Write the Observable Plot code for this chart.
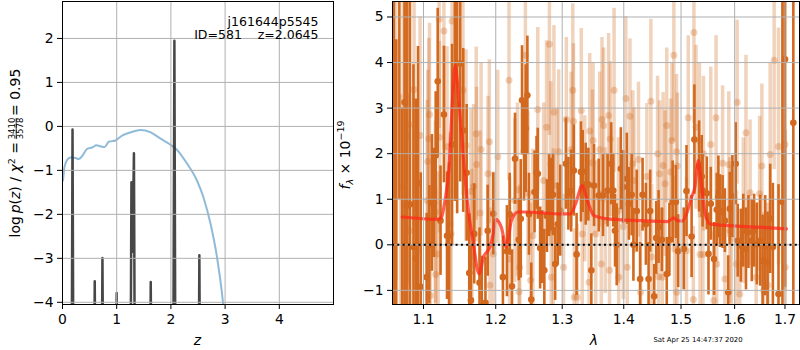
<!DOCTYPE html>
<html><head><meta charset="utf-8">
<script src="https://cdn.jsdelivr.net/npm/d3@7"></script>
<script src="https://cdn.jsdelivr.net/npm/@observablehq/plot@0.6"></script>
<style>
body{margin:0;background:#fff;}
#wrap{position:relative;width:800px;height:350px;background:#fff;font-family:"DejaVu Sans",sans-serif;}
#wrap svg{position:absolute;top:0;overflow:visible;}
</style></head><body><div id="wrap"></div>
<script>
// ---------- left panel data ----------
const zTicks = [0, 1, 2, 3, 4];
const pzTicks = [-4, -3, -2, -1, 0, 1, 2];
const pzZ   = [0, 0.16, 0.185, 0.21, 0.57, 0.595, 0.62, 0.71, 0.737, 0.765, 0.975, 1.0, 1.025, 1.245, 1.272, 1.292, 1.318, 1.345, 1.605, 1.628, 1.655, 2.035, 2.0645, 2.09, 2.5, 2.525, 2.55, 5];
const pzLog = [-9, -9, -0.07, -9, -9, -3.52, -9, -9, -2.99, -9, -9, -3.79, -9, -9, -1.27, -2.85, -0.61, -9, -9, -3.54, -9, -9, 1.95, -9, -9, -2.93, -9, -9];
const chiZ = [0.01, 0.037, 0.086, 0.147, 0.24, 0.30, 0.36, 0.455, 0.547, 0.627, 0.69, 0.774, 0.854, 0.977, 1.10, 1.25, 1.44, 1.62, 1.81, 1.96, 2.11, 2.30, 2.48, 2.60, 2.73, 2.85, 2.96, 3.0];
const chiV = [-1.23, -0.92, -0.76, -0.71, -0.72, -0.74, -0.68, -0.51, -0.48, -0.43, -0.45, -0.47, -0.35, -0.32, -0.21, -0.14, -0.08, -0.13, -0.28, -0.39, -0.53, -0.85, -1.23, -1.61, -2.21, -2.97, -3.99, -4.5];
const objName = "j161644p5545";
const objInfo = "ID=581\u00a0\u00a0\u00a0\u00a0z=2.0645";

// ---------- right panel data ----------
const lamTicks = [1.1, 1.2, 1.3, 1.4, 1.5, 1.6, 1.7];
const fluxTicks = [-1, 0, 1, 2, 3, 4, 5];
const darkWave = [1.0615,1.0645,1.0685,1.0720,1.0752,1.0779,1.0822,1.0868,1.0898,1.0928,1.0964,1.1042,1.1078,1.1112,1.1140,1.1163,1.1190,1.1228,1.1274,1.1316,1.1344,1.1385,1.1423,1.1455,1.1497,1.1539,1.1587,1.1623,1.1647,1.1693,1.1768,1.1800,1.1852,1.1884,1.1964,1.2104,1.2163,1.2203,1.2237,1.2282,1.2337,1.2367,1.2386,1.2416,1.2441,1.2466,1.2490,1.2525,1.2574,1.2604,1.2623,1.2659,1.2689,1.2723,1.2763,1.2797,1.2822,1.2856,1.2890,1.2930,1.2970,1.3058,1.3097,1.3140,1.3183,1.3227,1.3297,1.3325,1.3373,1.3416,1.3464,1.3508,1.3584,1.3654,1.3730,1.3790,1.3825,1.3854,1.3882,1.3951,1.3990,1.4052,1.4087,1.4134,1.4164,1.4221,1.4279,1.4321,1.4378,1.4425,1.4453,1.4523,1.4558,1.4600,1.4657,1.4744,1.4791,1.4849,1.4906,1.4948,1.5049,1.5099,1.5192,1.5243,1.5330,1.5379,1.5395,1.5472,1.5504,1.5547,1.5608,1.5659,1.5690,1.5720,1.5770,1.5813,1.5877,1.5907,1.5957,1.6020,1.6060,1.6120,1.6168,1.6220,1.6268,1.6334,1.6380,1.6434,1.6500,1.6548,1.6600,1.6648,1.6700,1.6754,1.6868,1.6948,1.7000,1.7172];
const darkFlux = [6.5,-2.5,7.0,-3.0,3.13,0.86,0.89,-0.05,-0.30,1.35,-0.92,-0.71,0.00,0.92,0.92,1.96,3.59,0.53,2.86,0.20,0.20,2.20,3.45,3.08,3.98,2.51,1.58,-0.62,-1.22,0.24,-0.83,-1.35,-1.27,0.31,0.68,-0.71,-0.14,0.67,-0.91,1.89,0.11,0.57,3.17,2.06,2.55,3.28,0.67,-1.20,1.16,1.58,1.56,-0.07,-0.05,-0.56,0.63,1.08,1.10,1.10,-0.42,0.45,0.75,1.78,1.12,1.18,1.63,-0.21,1.60,1.61,1.33,1.32,-0.56,1.30,1.08,1.08,1.19,1.78,1.19,0.31,0.00,1.67,1.27,1.45,0.90,1.10,0.00,0.74,-0.75,1.10,0.45,-0.75,0.74,-1.13,0.15,0.39,0.11,-0.64,0.11,0.94,0.94,-0.14,-0.09,1.18,0.18,2.31,1.72,1.50,1.19,1.13,-0.20,0.90,-0.31,0.77,1.05,0.74,0.72,0.53,-1.04,0.79,1.06,1.78,0.09,-0.02,0.31,-0.09,0.28,0.09,0.31,0.02,0.09,-0.35,-0.02,-0.38,0.57,-0.05,-1.08,0.94,4.07,2.68];
const darkErr = [8,7,6,6,5,4.5,4.5,4,3.5,3,2.5,1.4,1.3,1.5,1.2,1.4,1.6,1.2,1.5,1.4,1.6,2.2,2.5,2.4,2.6,1.8,1.5,1.3,1.2,1.1,1.2,1.1,1.0,1.0,0.9,0.9,1.0,0.9,0.8,1.0,0.9,1.3,1.2,1.1,1.4,1.3,0.9,0.8,0.9,0.8,1.0,0.9,0.8,0.9,0.8,0.9,0.8,0.9,0.8,0.9,1.0,1.0,0.8,0.9,1.0,0.9,1.1,0.9,0.9,0.8,0.8,0.9,0.8,0.9,0.8,0.9,0.8,0.8,0.9,0.9,0.8,1.0,0.8,0.9,0.8,0.9,0.8,0.8,0.9,0.8,0.9,0.7,0.8,0.8,0.7,0.8,0.8,0.9,0.8,0.8,0.9,1.0,0.9,1.2,1.0,0.9,0.8,0.8,0.9,0.8,0.8,0.8,0.9,0.8,0.8,0.7,0.8,0.8,0.9,0.9,0.8,0.8,0.8,0.9,0.8,0.9,0.8,0.9,1.0,1.0,1.1,1.1,1.2,1.4,2.4,4.5,5,4.2];
const lightWave = [1.0640,1.0700,1.0735,1.0788,1.0809,1.0815,1.0876,1.0955,1.1050,1.1056,1.1070,1.1080,1.1092,1.1158,1.1163,1.1196,1.1209,1.1215,1.1274,1.1316,1.1358,1.1372,1.1385,1.1535,1.1577,1.1647,1.1661,1.1684,1.1721,1.1726,1.1776,1.1790,1.1888,1.1908,1.1916,1.1964,1.2030,1.2193,1.2203,1.2278,1.2318,1.2341,1.2352,1.2436,1.2475,1.2515,1.2549,1.2623,1.2712,1.2757,1.2801,1.2822,1.2830,1.2861,1.2871,1.2920,1.2945,1.3021,1.3065,1.3140,1.3167,1.3178,1.3190,1.3236,1.3302,1.3318,1.3357,1.3427,1.3438,1.3481,1.3492,1.3536,1.3600,1.3626,1.3638,1.3665,1.3691,1.3747,1.3763,1.3773,1.3838,1.3910,1.3915,1.3990,1.4035,1.4059,1.4105,1.4152,1.4174,1.4251,1.4285,1.4395,1.4465,1.4478,1.4582,1.4600,1.4617,1.4665,1.4680,1.4714,1.4744,1.4814,1.4836,1.4871,1.4885,1.4918,1.4925,1.4935,1.5099,1.5131,1.5224,1.5235,1.5273,1.5336,1.5347,1.5400,1.5410,1.5547,1.5602,1.5646,1.5659,1.5770,1.5813,1.5888,1.5907,1.5939,1.6034,1.6048,1.6100,1.6168,1.6220,1.6300,1.6420,1.6488,1.6534,1.6568,1.6654,1.6700,1.6780,1.6868,1.7000,1.7005];
const lightFlux = [6.2,-2.2,1.28,2.39,2.64,0.31,3.41,2.40,0.97,1.83,2.33,2.86,-1.11,0.72,-0.65,-0.20,4.95,2.36,4.69,2.15,0.46,0.24,4.91,3.39,2.18,1.17,-0.24,1.28,2.44,1.76,0.70,2.09,1.56,2.26,-0.89,-0.20,1.93,3.61,-0.31,0.97,1.21,-1.03,-0.49,4.16,1.13,-0.78,0.20,2.97,1.41,2.58,4.40,1.78,-0.71,0.31,2.91,1.30,2.04,-0.49,2.75,2.09,3.39,2.71,-1.15,-1.15,2.95,0.24,1.23,-0.82,2.50,1.80,2.29,0.24,2.09,-0.42,2.75,2.62,0.53,2.84,-0.56,2.32,3.39,0.75,-0.71,0.40,3.21,-0.49,2.82,1.78,1.41,1.87,-1.04,1.50,3.15,-0.27,2.00,-0.70,1.56,-0.71,1.74,1.34,2.62,1.60,2.29,4.16,-0.09,2.04,-1.04,1.73,-0.13,2.79,-1.20,4.66,2.58,2.29,-0.21,-0.21,2.00,2.20,-1.22,2.79,-0.42,1.79,-0.75,1.76,0.31,0.13,-0.42,3.13,-1.08,0.75,2.46,1.14,-0.71,1.12,1.73,-1.00,-0.89,1.98,4.05,2.16,2.20,-0.49];
const lightErr = [7.0,5.5,4.5,4.0,3.5,3.0,3.0,2.6,2.2,2.0,2.2,2.0,1.8,2.0,1.9,1.8,2.4,2.1,2.6,2.2,2.0,2.1,2.6,2.3,2.1,1.8,1.9,1.8,1.9,1.7,1.8,1.9,1.7,1.8,1.7,1.8,1.9,2.2,1.8,1.8,1.9,1.7,1.8,2.0,1.8,1.7,1.9,1.8,1.7,1.9,2.0,1.8,1.7,1.8,1.9,1.7,1.8,1.6,1.8,1.7,1.9,1.7,1.5,1.6,1.8,1.7,1.6,1.6,1.7,1.6,1.7,1.6,1.7,1.6,1.8,1.7,1.6,1.8,1.6,1.7,1.8,1.6,1.5,1.6,1.8,1.6,1.7,1.6,1.6,1.7,1.5,1.6,1.8,1.6,1.7,1.5,1.6,1.5,1.6,1.6,1.7,1.6,1.7,1.9,1.6,1.7,1.5,1.6,1.6,1.8,1.6,2.0,1.8,1.7,1.6,1.6,1.7,1.7,1.5,1.8,1.6,1.7,1.5,1.6,1.6,1.6,1.6,1.8,1.5,1.6,1.7,1.6,1.6,1.7,1.8,1.7,1.8,2.0,2.4,2.6,3.2,3.0];
const modelWave = [1.0722,1.1196,1.1242,1.1288,1.1344,1.1391,1.1427,1.1455,1.1489,1.1545,1.1605,1.1675,1.1763,1.1824,1.1916,1.1964,1.2000,1.2080,1.2154,1.2178,1.2228,1.2327,1.2475,1.2700,1.2950,1.3130,1.3211,1.3318,1.3399,1.3508,1.3730,1.4291,1.4756,1.4871,1.4930,1.5019,1.5099,1.5192,1.5250,1.5317,1.5380,1.5442,1.5534,1.5910,1.6448,1.7030];
const modelFlux = [0.61,0.56,0.61,0.97,1.71,3.17,3.94,3.61,2.95,1.85,0.83,0.09,-0.64,-0.27,-0.05,0.24,0.56,0.39,-0.05,0.09,0.53,0.72,0.72,0.70,0.68,0.68,0.90,1.30,0.97,0.64,0.57,0.53,0.51,0.59,0.53,0.52,0.68,1.05,1.25,1.85,1.27,0.68,0.46,0.42,0.39,0.35];
const stamp = "Sat Apr 25 14:47:37 2020";

// ---------- build ----------
const FONT = "DejaVu Sans";
const ORANGE = "chocolate";
const GRID = "#b0b0b0";
const fmtInt = d => (d < 0 ? "\u2212" : "") + Math.abs(d);
const style = {fontFamily: FONT, fontSize: "13.9px", background: "white", color: "black", overflow: "visible"};

const pzRows = pzZ.map((z, i) => ({z, v: pzLog[i]}));
const chiRows = chiZ.map((z, i) => ({z, v: chiV[i]}));
const mk = (W, F, E) => W.map((w, i) => ({w, f: F[i], lo: F[i] - E[i], hi: F[i] + E[i]}));
const darkRows = mk(darkWave, darkFlux, darkErr);
const lightRows = mk(lightWave, lightFlux, lightErr);
const modelRows = modelWave.map((w, i) => ({w, f: modelFlux[i]}));

const left = Plot.plot({
  width: 340, height: 350, marginLeft: 62, marginRight: 7, marginTop: 1, marginBottom: 46,
  style,
  x: {domain: [0, 5]},
  y: {domain: [-4.05, 2.84]},
  marks: [
    Plot.line(chiRows, {x: "z", y: "v", stroke: "#8fbbd9", strokeWidth: 2, curve: "monotone-x", clip: true}),
    Plot.line(pzRows, {x: "z", y: "v", stroke: "#333", strokeOpacity: 0.9, strokeWidth: 2.5, clip: true}),
    Plot.gridX(zTicks, {stroke: GRID, strokeOpacity: 1, strokeWidth: 1}),
    Plot.gridY(pzTicks, {stroke: GRID, strokeOpacity: 1, strokeWidth: 1}),
    Plot.axisX(zTicks, {tickSize: 5, tickPadding: 5, label: null, tickFormat: fmtInt, fontSize: 13.9}),
    Plot.axisY(pzTicks, {tickSize: 5, tickPadding: 4, label: null, tickFormat: fmtInt, fontSize: 13.9}),
    Plot.frame({stroke: "black"}),
    Plot.text([objName], {text: d => d, frameAnchor: "top-right", dx: -15, dy: 24, lineAnchor: "bottom", fontSize: 12.5, textAnchor: "end"}),
    Plot.text([objInfo], {text: d => d, frameAnchor: "top-right", dx: -15, dy: 37.5, lineAnchor: "bottom", fontSize: 12.5, textAnchor: "end"})
  ]
});

const right = Plot.plot({
  width: 460, height: 350, marginLeft: 52, marginRight: 1, marginTop: 1, marginBottom: 46,
  style,
  x: {type: "log", domain: [1.0597, 1.730]},
  y: {domain: [-1.31, 5.34]},
  marks: [
    Plot.ruleX(lightRows, {x: "w", y1: "lo", y2: "hi", stroke: ORANGE, strokeOpacity: 0.3, strokeWidth: 3.5, clip: true}),
    Plot.dot(lightRows, {x: "w", y: "f", r: 3.5, fill: ORANGE, fillOpacity: 0.3, stroke: "none", clip: true}),
    Plot.ruleX(darkRows, {x: "w", y1: "lo", y2: "hi", stroke: ORANGE, strokeWidth: 2.6, clip: true}),
    Plot.dot(darkRows, {x: "w", y: "f", r: 3.3, fill: ORANGE, stroke: "none", clip: true}),
    Plot.line(modelRows, {x: "w", y: "f", stroke: "#ff2a1a", strokeOpacity: 0.75, strokeWidth: 3.2, curve: "monotone-x", clip: true}),
    Plot.gridX(lamTicks, {stroke: GRID, strokeOpacity: 1, strokeWidth: 1}),
    Plot.gridY(fluxTicks, {stroke: GRID, strokeOpacity: 1, strokeWidth: 1}),
    Plot.ruleY([0], {stroke: "black", strokeWidth: 2, strokeDasharray: "2,3.3"}),
    Plot.axisX(lamTicks, {tickSize: 5, tickPadding: 5, label: null, tickFormat: d => d.toFixed(1), fontSize: 13.9}),
    Plot.axisY(fluxTicks, {tickSize: 5, tickPadding: 4, label: null, tickFormat: fmtInt, fontSize: 13.9}),
    Plot.frame({stroke: "black"})
  ]
});

const wrap = document.getElementById("wrap");
left.style.left = "0px";
right.style.left = "340px";
wrap.appendChild(left);
wrap.appendChild(right);

// left axis labels
const L = d3.select(left);
L.append("text").attr("x", 197.5).attr("y", 345).attr("text-anchor", "middle")
  .attr("font-family", FONT).attr("font-size", 14).attr("font-style", "italic").text("z");
const g = L.append("g").attr("transform", "translate(20,152) rotate(-90)")
  .attr("font-family", FONT).attr("font-size", 14).attr("fill", "black");
const t1 = g.append("text").attr("x", 10).attr("y", 0).attr("text-anchor", "end");
t1.append("tspan").text("log\u2009");
t1.append("tspan").attr("font-style", "italic").text("p");
t1.append("tspan").text("(");
t1.append("tspan").attr("font-style", "italic").text("z");
t1.append("tspan").text(") / ");
t1.append("tspan").attr("font-style", "italic").text("\u03c7");
t1.append("tspan").attr("font-size", 9.5).attr("dy", -5.5).text("2");
t1.append("tspan").attr("dy", 5.5).text(" =");
g.append("text").attr("x", 23.5).attr("y", -5.5).attr("text-anchor", "middle").attr("font-size", 8.5).text("3410");
g.append("text").attr("x", 23.5).attr("y", 2.6).attr("text-anchor", "middle").attr("font-size", 8.5).text("3578");
g.append("line").attr("x1", 13).attr("x2", 34).attr("y1", -3.8).attr("y2", -3.8).attr("stroke", "black").attr("stroke-width", 0.8);
g.append("text").attr("x", 36).attr("y", 0).attr("text-anchor", "start").text("= 0.95");

// right axis labels
const R = d3.select(right);
R.append("text").attr("x", 594 - 340).attr("y", 345).attr("text-anchor", "middle")
  .attr("font-family", FONT).attr("font-size", 14).attr("font-style", "italic").text("\u03bb");
const rt = R.append("text").attr("transform", "translate(10,155) rotate(-90)").attr("text-anchor", "middle")
  .attr("font-family", FONT).attr("font-size", 14).attr("fill", "black");
rt.append("tspan").attr("font-style", "italic").text("f");
rt.append("tspan").attr("font-style", "italic").attr("font-size", 9.5).attr("dy", 3).text("\u03bb");
rt.append("tspan").attr("dy", -3).text(" \u00d7 10");
rt.append("tspan").attr("font-size", 9.5).attr("dy", -6).text("\u221219");
R.append("text").attr("x", 698 - 340).attr("y", 342).attr("font-family", FONT).attr("font-size", 6.9)
  .attr("fill", "black").text(stamp);
</script>
</body></html>
